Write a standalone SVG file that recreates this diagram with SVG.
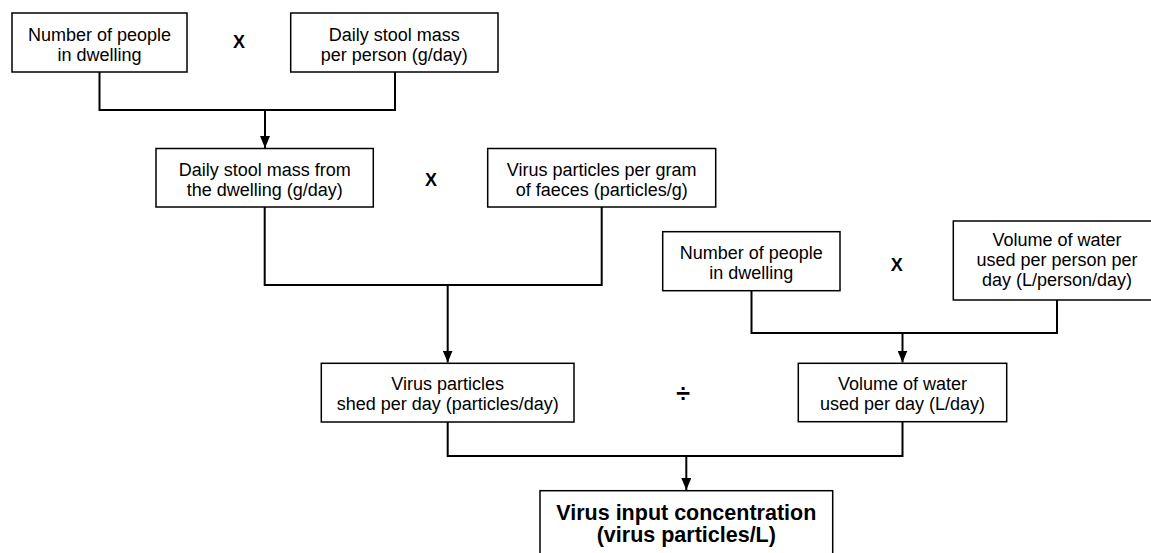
<svg xmlns="http://www.w3.org/2000/svg" width="1151" height="553" viewBox="0 0 1151 553">
<defs>
<marker id="arr" viewBox="0 0 12 10" refX="12" refY="5" markerWidth="12" markerHeight="10" markerUnits="userSpaceOnUse" orient="auto">
<path d="M0,0 L12,5 L0,10 Z" fill="#000"/>
</marker>
<style>
.box{fill:#fff;stroke:#000;stroke-width:1.5}
.t{font-family:"Liberation Sans",Arial,sans-serif;font-size:18px;fill:#000;text-anchor:middle}
.b{font-family:"Liberation Sans",Arial,sans-serif;font-weight:bold;fill:#000;text-anchor:middle}
.ln{fill:none;stroke:#000;stroke-width:2}
</style>
</defs>
<rect width="1151" height="553" fill="#fff"/>
<g id="connectors">
<path class="ln" d="M99.5,72 V110 H395 V72"/>
<path class="ln" d="M265,110 V148" marker-end="url(#arr)"/>
<path class="ln" d="M264.7,207 V285 H601.7 V207"/>
<path class="ln" d="M447.7,285 V362.5" marker-end="url(#arr)"/>
<path class="ln" d="M751.5,291 V333 H1057 V300"/>
<path class="ln" d="M902.5,333 V362.5" marker-end="url(#arr)"/>
<path class="ln" d="M447.7,422 V456 H902.5 V422"/>
<path class="ln" d="M686.3,456 V490" marker-end="url(#arr)"/>
</g>
<g id="n1">
<rect class="box" x="12" y="13" width="175" height="59"/>
<text class="t" x="99.5" y="40.5">Number of people</text>
<text class="t" x="99.5" y="61">in dwelling</text>
</g>
<g id="op1"><text class="b" x="239" y="48.3" font-size="18">X</text></g>
<g id="n2">
<rect class="box" x="290.7" y="13" width="207.3" height="59"/>
<text class="t" x="394.3" y="40.5">Daily stool mass</text>
<text class="t" x="394.3" y="61">per person (g/day)</text>
</g>
<g id="n3">
<rect class="box" x="156" y="148.5" width="217.3" height="58.5"/>
<text class="t" x="264.7" y="175.5">Daily stool mass from</text>
<text class="t" x="264.7" y="196">the dwelling (g/day)</text>
</g>
<g id="op2"><text class="b" x="431" y="186" font-size="18">X</text></g>
<g id="n4">
<rect class="box" x="487.7" y="148.5" width="228" height="58.5"/>
<text class="t" x="601.7" y="175.5">Virus particles per gram</text>
<text class="t" x="601.7" y="196">of faeces (particles/g)</text>
</g>
<g id="n6">
<rect class="box" x="662.7" y="231.7" width="177.3" height="59"/>
<text class="t" x="751.3" y="258.5">Number of people</text>
<text class="t" x="751.3" y="279">in dwelling</text>
</g>
<g id="op3"><text class="b" x="896.7" y="271" font-size="18">X</text></g>
<g id="n7">
<rect class="box" x="953.3" y="221" width="208" height="79"/>
<text class="t" x="1057" y="245.5">Volume of water</text>
<text class="t" x="1057" y="265.5">used per person per</text>
<text class="t" x="1057" y="285.5">day (L/person/day)</text>
</g>
<g id="n5">
<rect class="box" x="321.3" y="363.3" width="252.7" height="58.7"/>
<text class="t" x="447.7" y="389.8">Virus particles</text>
<text class="t" x="447.7" y="410.3">shed per day (particles/day)</text>
</g>
<g id="op4"><text class="b" x="683" y="402" font-size="25">÷</text></g>
<g id="n8">
<rect class="box" x="798.3" y="363.3" width="208.4" height="58.4"/>
<text class="t" x="902.5" y="389.8">Volume of water</text>
<text class="t" x="902.5" y="410.3">used per day (L/day)</text>
</g>
<g id="n9">
<rect class="box" x="540" y="490.7" width="292.7" height="80"/>
<text class="b" x="686.3" y="520" font-size="21.5">Virus input concentration</text>
<text class="b" x="686.3" y="541.7" font-size="21.5">(virus particles/L)</text>
</g>
</svg>
